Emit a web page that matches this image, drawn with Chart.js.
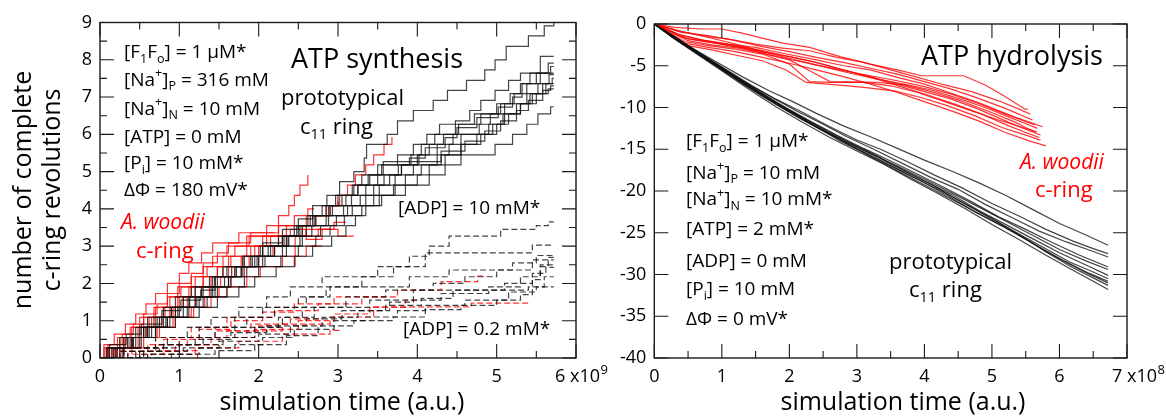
<!DOCTYPE html>
<html><head><meta charset="utf-8">
<script src="https://cdn.jsdelivr.net/npm/chart.js@4.4.1/dist/chart.umd.min.js"></script>
<style>
html,body{margin:0;padding:0;background:#fff;width:1166px;height:417px;overflow:hidden}
#c1{position:absolute;left:0;top:0}
#c2{position:absolute;left:596px;top:0}
</style></head><body>
<canvas id="c1" width="610" height="417"></canvas>
<canvas id="c2" width="570" height="417"></canvas>
<script>
// ---------------- DATA ----------------
// Left panel: ATP synthesis (x in units of 1e9 a.u., y = complete c-ring revolutions)
const synXTicks = [0,1,2,3,4,5,6];
const synYTicks = [0,1,2,3,4,5,6,7,8,9];
// prototypical c11 ring, [ADP] = 10 mM  (solid black)  [x, revolutions]
const synProto10 = [
 [[0,0],[0.12,0.36],[0.33,0.64],[0.52,0.91],[0.78,1.27],[1.02,1.55],[1.27,1.82],[1.45,2.18],[1.66,2.45],[1.9,2.73],[2.05,3.09],[2.3,3.45],[2.5,3.73],[2.68,4.09],[2.86,4.36],[3.02,4.73],[3.2,5.0],[3.33,5.36],[3.36,5.73],[3.62,6.0],[3.75,6.36],[3.95,6.64],[4.2,6.91],[4.38,7.18],[4.62,7.45],[4.85,7.73],[4.98,8.0],[5.12,8.36],[5.4,8.64],[5.6,8.91],[5.72,9.0]],
 [[0,0],[0.2,0.27],[0.41,0.55],[0.58,0.82],[0.83,1.09],[1.0,1.36],[1.22,1.64],[1.4,1.91],[1.57,2.18],[1.78,2.45],[1.95,2.73],[2.15,3.0],[2.37,3.27],[2.52,3.55],[2.7,3.82],[2.93,4.09],[3.17,4.36],[3.35,4.64],[3.58,4.91],[3.76,5.18],[3.92,5.45],[4.05,5.73],[4.22,6.0],[4.52,6.27],[4.8,6.55],[5.0,6.82],[5.17,7.09],[5.3,7.36],[5.42,7.64],[5.55,8.09],[5.72,8.09]],
 [[0,0],[0.08,0.27],[0.25,0.55],[0.45,0.82],[0.6,1.09],[0.8,1.36],[0.95,1.64],[1.15,1.91],[1.38,2.18],[1.55,2.45],[1.8,2.73],[2.02,3.0],[2.3,3.27],[2.45,3.55],[2.62,3.82],[2.8,4.09],[2.97,4.36],[3.25,4.64],[3.5,4.91],[3.8,5.18],[4.0,5.45],[4.15,5.73],[4.33,6.0],[4.48,6.36],[4.66,6.64],[4.8,6.91],[4.98,7.18],[5.15,7.45],[5.3,7.64],[5.72,7.64]],
 [[0,0],[0.17,0.27],[0.4,0.55],[0.62,0.82],[0.8,1.09],[0.98,1.36],[1.13,1.64],[1.3,1.91],[1.45,2.18],[1.72,2.45],[1.98,2.73],[2.2,3.0],[2.38,3.27],[2.55,3.55],[2.68,3.82],[2.9,4.09],[3.1,4.36],[3.25,4.64],[3.4,4.91],[3.55,5.18],[3.9,5.36],[4.1,5.64],[4.35,5.91],[4.5,6.18],[4.75,6.45],[5.02,6.73],[5.2,7.0],[5.32,7.36],[5.5,7.64],[5.65,7.91],[5.72,7.91]],
 [[0,0],[0.25,0.27],[0.45,0.55],[0.6,0.82],[0.75,1.09],[0.95,1.36],[1.2,1.64],[1.42,1.91],[1.62,2.18],[1.8,2.45],[2.0,2.73],[2.2,3.0],[2.35,3.27],[2.6,3.55],[2.85,3.82],[3.07,4.09],[3.28,4.36],[3.45,4.64],[3.65,4.91],[3.8,5.18],[4.02,5.45],[4.25,5.73],[4.45,6.0],[4.78,6.27],[4.92,6.55],[5.05,6.82],[5.22,7.09],[5.38,7.36],[5.55,7.64],[5.68,7.82],[5.72,7.82]],
 [[0,0],[0.15,0.27],[0.38,0.55],[0.55,0.82],[0.85,1.09],[1.05,1.36],[1.25,1.64],[1.48,1.91],[1.65,2.18],[1.78,2.45],[2.08,2.73],[2.3,3.0],[2.52,3.27],[2.67,3.55],[2.88,3.82],[3.12,4.09],[3.45,4.36],[3.7,4.64],[3.85,4.91],[4.05,5.18],[4.25,5.45],[4.4,5.73],[4.55,6.0],[4.9,6.27],[5.08,6.55],[5.25,6.82],[5.38,7.09],[5.52,7.36],[5.66,7.6],[5.72,7.6]],
 [[0,0],[0.28,0.27],[0.5,0.55],[0.7,0.82],[0.88,1.09],[1.1,1.36],[1.3,1.64],[1.45,1.91],[1.62,2.18],[1.85,2.45],[2.05,2.73],[2.35,3.0],[2.55,3.27],[2.78,3.55],[2.98,3.82],[3.18,4.09],[3.35,4.36],[3.52,4.64],[3.72,4.91],[3.95,5.18],[4.3,5.45],[4.55,5.73],[4.8,6.0],[5.0,6.27],[5.15,6.55],[5.3,6.82],[5.42,7.09],[5.58,7.36],[5.7,7.5],[5.72,7.5]],
 [[0,0],[0.1,0.27],[0.3,0.55],[0.5,0.82],[0.68,1.09],[0.9,1.36],[1.05,1.64],[1.2,1.91],[1.42,2.18],[1.6,2.45],[1.82,2.73],[2.05,3.0],[2.25,3.27],[2.48,3.55],[2.72,3.82],[2.88,4.09],[3.0,4.36],[3.18,4.64],[3.3,4.91],[3.5,5.18],[3.75,5.45],[3.95,5.73],[4.12,6.0],[4.28,6.27],[4.72,6.55],[5.1,6.82],[5.45,7.09],[5.62,7.36],[5.72,7.36]],
 [[0,0],[0.2,0.27],[0.35,0.55],[0.55,0.82],[0.72,1.09],[0.9,1.36],[1.12,1.64],[1.28,1.91],[1.48,2.18],[1.7,2.45],[1.92,2.73],[2.12,3.0],[2.32,3.27],[2.5,3.55],[2.65,3.82],[2.85,4.09],[3.05,4.36],[3.2,4.64],[3.38,4.91],[3.57,5.27],[4.3,5.55],[4.6,5.82],[4.85,6.09],[5.05,6.36],[5.25,6.64],[5.4,6.91],[5.58,7.18],[5.68,7.3],[5.72,7.3]],
 [[0,0],[0.22,0.27],[0.42,0.55],[0.65,0.82],[0.85,1.09],[1.12,1.36],[1.35,1.64],[1.6,1.91],[1.82,2.18],[2.0,2.45],[2.28,2.73],[2.5,3.0],[2.72,3.27],[2.9,3.55],[3.08,3.82],[3.3,4.09],[3.52,4.36],[3.72,4.64],[4.0,4.91],[4.15,5.18],[4.35,5.45],[4.55,5.73],[4.75,6.0],[4.95,6.27],[5.1,6.55],[5.3,6.82],[5.5,7.09],[5.65,7.22],[5.72,7.22]],
 [[0,0],[0.3,0.27],[0.52,0.55],[0.7,0.82],[0.95,1.09],[1.25,1.36],[1.48,1.64],[1.75,1.91],[1.95,2.18],[2.22,2.45],[2.45,2.73],[2.68,3.0],[2.92,3.27],[3.1,3.55],[3.22,3.82],[3.35,4.09],[3.55,4.36],[3.85,4.64],[4.15,4.91],[4.35,5.18],[4.55,5.45],[4.98,5.73],[5.2,6.0],[5.38,6.27],[5.52,6.55],[5.68,6.74],[5.72,6.74]]
];
// A. woodii c-ring, [ADP] = 10 mM  (solid red)
const synWoodii10 = [
 [[0,0],[0.05,0.27],[0.22,0.55],[0.38,0.82],[0.5,1.09],[0.68,1.36],[0.85,1.64],[0.98,1.91],[1.15,2.18],[1.3,2.45],[1.42,2.73],[1.6,3.0],[1.85,3.27],[2.1,3.55],[2.25,3.82],[2.38,4.09],[2.45,4.36],[2.52,4.64],[2.62,4.91]],
 [[0,0],[0.12,0.27],[0.3,0.55],[0.48,0.82],[0.62,1.09],[0.8,1.36],[1.0,1.64],[1.15,1.91],[1.3,2.18],[1.48,2.45],[1.65,2.73],[1.9,3.0],[2.1,3.27],[2.35,3.55],[2.6,3.82],[2.85,4.09],[3.02,4.36],[3.12,4.64],[3.22,4.91],[3.35,5.18],[3.45,5.45],[3.58,5.73],[3.68,5.93]],
 [[0,0],[0.18,0.27],[0.4,0.55],[0.58,0.82],[0.75,1.09],[0.92,1.36],[1.1,1.64],[1.28,1.91],[1.45,2.18],[1.62,2.45],[1.8,2.73],[2.0,3.0],[2.15,3.27],[2.4,3.27],[2.46,2.45]],
 [[0,0],[0.1,0.27],[0.32,0.55],[0.55,0.82],[0.7,1.09],[0.88,1.36],[1.05,1.64],[1.2,1.91],[1.4,2.18],[1.55,2.45],[1.78,2.73],[1.95,3.0],[2.3,3.27],[2.75,3.45],[2.9,3.45]],
 [[0,0],[0.25,0.27],[0.42,0.55],[0.6,0.82],[0.78,1.09],[0.95,1.36],[1.2,1.64],[1.38,1.91],[1.52,2.18],[1.7,2.45],[1.88,2.73],[2.05,3.0],[2.25,3.27],[2.6,3.45],[2.95,3.64],[3.1,3.64]],
 [[0,0],[0.08,0.27],[0.25,0.55],[0.4,0.82],[0.55,1.09],[0.7,1.36],[0.88,1.64],[1.02,1.91],[1.2,2.18],[1.35,2.45],[1.55,2.73],[1.7,3.0],[1.88,3.27],[2.4,3.45],[2.6,3.18],[2.8,3.45],[3.0,3.27],[3.2,3.27]],
 [[0,0],[0.15,0.27],[0.35,0.55],[0.52,0.82],[0.65,1.09],[0.82,1.36],[0.98,1.64],[1.12,1.91],[1.3,2.18],[1.48,2.45],[1.62,2.73],[1.85,3.0],[2.05,3.27],[2.25,3.55],[2.45,3.82],[2.62,4.0],[2.7,4.0]],
 [[0,0],[0.1,0.36],[0.28,0.64],[0.42,0.91],[0.55,1.18],[0.72,1.45],[0.85,1.73],[1.0,2.0],[1.15,2.27],[1.3,2.55],[1.48,2.82],[1.62,3.09],[1.9,3.36],[2.25,3.55],[2.4,3.55]],
 [[0,0],[0.3,0.27],[0.55,0.55],[0.72,0.82],[0.95,1.09],[1.15,1.36],[1.32,1.64],[1.5,1.91],[1.65,2.18],[1.82,2.45],[2.0,2.73],[2.18,3.0],[2.35,3.27],[2.55,3.55],[2.72,3.82],[2.9,4.09],[3.0,4.2]],
 [[0,0],[0.2,0.27],[0.48,0.55],[0.75,0.82],[0.92,1.09],[1.18,1.36],[1.4,1.64],[1.6,1.91],[1.85,2.18],[2.02,2.45],[2.3,2.73],[2.6,3.0],[2.8,3.0]],
 [[0,0],[0.05,0.36],[0.18,0.64],[0.32,0.91],[0.45,1.18],[0.58,1.45],[0.7,1.73],[0.85,2.0],[1.0,2.27],[1.12,2.55],[1.28,2.82],[1.42,3.09],[1.75,3.36],[2.2,3.36]]
];
// prototypical c11 ring, [ADP] = 0.2 mM  (dashed black)
const synProto02 = [
 [[0,0],[0.3,0.27],[0.7,0.55],[1.1,0.82],[1.4,1.09],[1.75,1.36],[2.1,1.64],[2.4,1.91],[2.8,2.18],[3.5,2.45],[3.9,2.73],[4.15,3.0],[4.4,3.27],[5.05,3.45],[5.5,3.55],[5.65,3.65],[5.72,3.65]],
 [[0,0],[0.45,0.27],[0.85,0.55],[1.25,0.82],[1.7,1.09],[2.05,1.36],[2.5,1.64],[2.85,1.91],[3.3,2.18],[3.7,2.45],[4.1,2.82],[5.45,3.03],[5.72,3.03]],
 [[0,0],[0.55,0.27],[1.0,0.55],[1.45,0.82],[1.85,1.09],[2.2,1.36],[2.6,1.64],[2.9,1.91],[3.9,2.18],[4.4,2.36],[5.2,2.55],[5.5,2.75],[5.72,2.75]],
 [[0,0],[0.35,0.18],[0.8,0.36],[1.3,0.55],[1.7,0.82],[2.25,1.09],[2.7,1.36],[3.1,1.64],[3.6,1.82],[4.2,2.0],[4.6,2.18],[5.0,2.36],[5.45,2.63],[5.72,2.63]],
 [[0,0],[0.6,0.18],[1.1,0.36],[1.55,0.55],[1.95,0.82],[2.3,1.09],[2.55,1.36],[3.4,1.55],[4.3,1.73],[4.9,1.91],[5.3,2.18],[5.55,2.5],[5.72,2.5]],
 [[0,0],[0.25,0.18],[0.75,0.36],[1.2,0.5],[1.65,0.68],[2.1,0.86],[2.6,1.05],[3.05,1.27],[3.6,1.41],[4.05,1.6],[4.45,1.82],[5.1,2.0],[5.45,2.27],[5.62,2.43],[5.72,2.43]],
 [[0,0],[0.5,0.1],[1.05,0.27],[1.5,0.45],[2.0,0.64],[2.4,0.86],[2.8,1.09],[3.25,1.27],[3.65,1.5],[3.95,1.82],[5.4,1.91],[5.6,2.18],[5.72,2.18]],
 [[0,0],[0.65,0.1],[1.25,0.27],[1.7,0.36],[2.05,0.55],[2.45,0.77],[2.95,1.0],[3.35,1.1],[3.75,1.27],[4.1,1.41],[4.6,1.55],[5.15,1.77],[5.5,1.91],[5.72,1.91]],
 [[0,0],[0.9,0.1],[1.45,0.2],[1.95,0.36],[2.35,0.6],[2.75,0.86],[3.2,1.0],[3.7,1.1],[4.1,1.3],[4.55,1.41],[5.0,1.55],[5.3,1.7],[5.45,2.1],[5.55,2.45],[5.65,2.7],[5.72,2.7]]
];
// A. woodii c-ring, [ADP] = 0.2 mM  (dashed red)
const synWoodii02 = [
 [[0,0],[0.3,0.27],[0.7,0.55],[1.15,0.82],[1.6,1.09],[2.2,1.27],[2.75,1.45],[3.3,1.64],[3.75,1.82],[4.3,2.05],[4.76,2.2],[4.86,2.2]],
 [[0,0],[0.5,0.18],[0.95,0.36],[1.4,0.55],[1.85,0.73],[2.3,0.91],[2.9,1.1],[3.45,1.37],[4.68,1.47],[5.42,1.47]],
 [[0,0],[0.6,0.1],[1.2,0.27],[1.75,0.45],[2.3,0.64],[2.9,0.74],[3.03,0.74]],
 [[0,0],[0.35,0.1],[0.8,0.2],[1.2,0.2],[1.23,-0.15]],
 [[0,0],[0.25,0.18],[0.7,0.36],[1.1,0.55],[1.6,0.73],[2.0,0.86],[2.3,0.86]],
 [[0,0],[0.4,0.27],[0.8,0.5],[1.25,0.77],[1.65,1.0],[2.05,1.23],[2.45,1.45],[2.95,1.64],[3.6,1.64]],
 [[0,0],[0.55,0.18],[1.0,0.36],[1.5,0.55],[1.95,0.77],[2.5,1.0],[2.95,1.18],[3.4,1.36],[3.85,1.55],[4.0,1.55]],
 [[0,0],[0.2,0.18],[0.6,0.36],[1.0,0.55],[1.45,0.73],[1.9,0.91],[2.4,1.05],[2.8,1.05]]
];

// Right panel: ATP hydrolysis (x in units of 1e8 a.u.)
const hydXTicks = [0,1,2,3,4,5,6,7];
const hydYTicks = [0,-5,-10,-15,-20,-25,-30,-35,-40];
// prototypical c11 ring (black)
const hydProto = [
 [[0,0],[0.3,-1.6],[0.65,-3.3],[1.0,-4.9],[1.3,-6.3],[1.7,-8.0],[2.05,-9.3],[2.4,-10.7],[2.8,-12.2],[3.2,-13.5],[3.6,-14.9],[4.0,-16.3],[4.4,-17.6],[4.8,-19.0],[5.2,-20.5],[5.6,-22.2],[6.0,-23.9],[6.4,-25.3],[6.72,-26.5]],
 [[0,0],[0.35,-1.9],[0.7,-3.6],[1.05,-5.4],[1.45,-7.4],[1.8,-9.0],[2.2,-10.6],[2.6,-12.3],[3.0,-13.9],[3.35,-15.0],[3.75,-16.5],[4.15,-18.1],[4.55,-19.6],[5.0,-21.5],[5.4,-23.0],[5.8,-24.6],[6.2,-26.0],[6.5,-26.9],[6.72,-27.5]],
 [[0,0],[0.25,-1.4],[0.6,-3.2],[0.95,-5.0],[1.3,-6.8],[1.7,-8.6],[2.1,-10.4],[2.45,-11.8],[2.85,-13.5],[3.25,-15.0],[3.65,-16.6],[4.1,-18.4],[4.5,-19.8],[4.9,-21.6],[5.3,-23.2],[5.7,-24.8],[6.1,-26.1],[6.45,-27.1],[6.72,-27.9]],
 [[0,0],[0.3,-1.5],[0.7,-3.7],[1.1,-5.8],[1.5,-7.8],[1.9,-9.8],[2.3,-11.6],[2.7,-13.3],[3.1,-14.9],[3.5,-16.4],[3.9,-18.0],[4.3,-19.6],[4.7,-21.3],[5.1,-23.1],[5.5,-24.6],[5.9,-26.2],[6.3,-27.7],[6.72,-29.1]],
 [[0,0],[0.4,-2.3],[0.8,-4.4],[1.2,-6.4],[1.6,-8.5],[2.0,-10.4],[2.4,-12.3],[2.8,-13.9],[3.2,-15.4],[3.6,-17.1],[4.0,-18.8],[4.4,-20.4],[4.8,-22.3],[5.2,-24.0],[5.6,-25.7],[6.0,-27.4],[6.4,-28.9],[6.72,-30.1]],
 [[0,0],[0.2,-1.1],[0.55,-3.0],[0.9,-4.9],[1.3,-7.1],[1.65,-8.9],[2.05,-10.8],[2.45,-12.6],[2.85,-14.2],[3.3,-15.9],[3.7,-17.6],[4.1,-19.2],[4.5,-21.1],[4.9,-22.9],[5.3,-24.7],[5.75,-26.7],[6.15,-28.5],[6.5,-29.7],[6.72,-30.5]],
 [[0,0],[0.35,-2.0],[0.75,-4.1],[1.15,-6.2],[1.55,-8.3],[1.95,-10.2],[2.35,-12.1],[2.75,-14.0],[3.15,-15.6],[3.55,-17.2],[3.95,-18.8],[4.35,-20.6],[4.75,-22.5],[5.15,-24.2],[5.55,-26.0],[5.95,-27.9],[6.35,-29.6],[6.72,-31.0]],
 [[0,0],[0.3,-1.8],[0.65,-3.7],[1.0,-5.6],[1.4,-7.8],[1.8,-9.9],[2.2,-11.8],[2.6,-13.6],[3.0,-15.2],[3.4,-16.8],[3.8,-18.6],[4.2,-20.3],[4.6,-22.1],[5.0,-24.0],[5.4,-25.8],[5.8,-27.7],[6.2,-29.5],[6.5,-30.8],[6.72,-31.8]],
 [[0,0],[0.45,-2.4],[0.85,-4.5],[1.25,-6.6],[1.65,-8.7],[2.05,-10.6],[2.45,-12.4],[2.85,-14.3],[3.25,-16.1],[3.65,-17.8],[4.05,-19.5],[4.45,-21.2],[4.85,-22.9],[5.25,-24.6],[5.65,-26.5],[6.05,-28.3],[6.45,-29.9],[6.72,-30.8]],
 [[0,0],[0.25,-1.5],[0.6,-3.3],[1.0,-5.5],[1.4,-7.6],[1.8,-9.6],[2.2,-11.5],[2.6,-13.2],[3.0,-14.9],[3.4,-16.5],[3.8,-18.2],[4.2,-19.8],[4.6,-21.5],[5.0,-23.3],[5.4,-25.2],[5.8,-27.3],[6.2,-29.2],[6.5,-30.4],[6.72,-31.3]],
 [[0,0],[0.4,-2.1],[0.8,-4.2],[1.2,-6.2],[1.6,-8.4],[2.0,-10.3],[2.4,-12.1],[2.8,-13.8],[3.2,-15.5],[3.6,-17.0],[4.0,-18.6],[4.4,-20.2],[4.8,-21.9],[5.2,-23.6],[5.6,-25.3],[6.0,-27.0],[6.4,-28.4],[6.72,-29.4]]
];
// A. woodii c-ring (red)
const hydWoodii = [
 [[0,0],[0.3,-0.4],[0.7,-0.6],[1.0,-0.6],[1.3,-1.1],[1.6,-1.7],[1.9,-2.3],[2.3,-2.8],[2.75,-3.9],[3.2,-4.8],[3.6,-5.5],[3.96,-6.2],[4.58,-6.2],[4.9,-7.3],[5.2,-8.7],[5.49,-10.2],[5.53,-10.2]],
 [[0,0],[0.4,-0.9],[0.8,-1.5],[1.1,-1.8],[1.5,-2.4],[1.9,-2.9],[2.3,-3.2],[2.7,-4.0],[3.1,-4.6],[3.5,-5.5],[3.9,-6.4],[4.3,-7.3],[4.7,-8.1],[5.1,-9.2],[5.4,-10.2],[5.57,-10.8]],
 [[0,0],[0.35,-1.2],[0.7,-1.9],[1.1,-2.4],[1.5,-2.8],[1.9,-3.5],[2.4,-4.3],[2.8,-5.0],[3.2,-5.5],[3.6,-6.4],[4.0,-7.2],[4.4,-8.3],[4.8,-9.4],[5.2,-10.7],[5.5,-11.7],[5.64,-12.1]],
 [[0,0],[0.5,-1.8],[0.9,-2.3],[1.3,-2.8],[1.7,-3.7],[2.1,-4.4],[2.5,-5.1],[2.9,-5.9],[3.3,-6.6],[3.7,-7.2],[4.1,-7.9],[4.5,-8.9],[4.9,-10.0],[5.3,-11.3],[5.55,-12.1],[5.67,-12.5]],
 [[0,0],[0.45,-2.1],[0.8,-2.6],[1.2,-3.0],[1.6,-3.6],[2.0,-4.8],[2.3,-6.9],[2.6,-7.0],[3.1,-7.0],[3.5,-7.4],[3.9,-8.2],[4.3,-9.3],[4.7,-10.4],[5.1,-11.5],[5.45,-12.4],[5.67,-12.9]],
 [[0,0],[0.4,-1.4],[0.75,-2.0],[1.15,-2.5],[1.55,-3.1],[1.95,-3.8],[2.35,-4.5],[2.75,-5.4],[3.2,-6.3],[3.6,-7.2],[4.0,-8.1],[4.4,-9.0],[4.8,-10.2],[5.2,-11.6],[5.5,-12.6],[5.72,-13.3]],
 [[0,0],[0.5,-2.6],[0.85,-3.1],[1.25,-3.8],[1.6,-4.4],[1.95,-5.5],[2.25,-7.0],[2.7,-7.3],[3.1,-7.6],[3.55,-8.0],[3.95,-8.8],[4.35,-9.8],[4.75,-11.0],[5.15,-12.4],[5.5,-13.3],[5.72,-13.9]],
 [[0,0],[0.45,-2.3],[0.8,-2.8],[1.2,-3.3],[1.6,-4.0],[2.0,-4.7],[2.4,-5.5],[2.8,-6.3],[3.2,-7.2],[3.6,-8.2],[4.0,-9.3],[4.4,-10.4],[4.8,-11.6],[5.2,-13.0],[5.55,-14.0],[5.8,-14.6]],
 [[0,0],[0.4,-1.0],[0.8,-1.4],[1.2,-2.0],[1.6,-2.7],[2.0,-3.3],[2.4,-4.0],[2.8,-4.6],[3.2,-5.3],[3.6,-6.0],[4.0,-6.9],[4.4,-7.8],[4.8,-8.9],[5.2,-10.1],[5.6,-11.5]],
 [[0,0],[0.5,-2.0],[0.85,-2.5],[1.25,-2.9],[1.6,-3.5],[2.0,-4.3],[2.35,-5.8],[2.6,-6.9],[3.3,-7.0],[3.7,-7.3],[4.1,-8.1],[4.5,-9.1],[4.9,-10.3],[5.3,-11.6],[5.5,-12.4],[5.65,-13.0]],
 [[0,0],[0.45,-1.7],[0.85,-2.2],[1.25,-2.8],[1.65,-3.4],[2.05,-4.0],[2.45,-4.7],[2.85,-5.6],[3.25,-6.5],[3.65,-7.5],[4.05,-8.5],[4.45,-9.6],[4.85,-10.8],[5.25,-12.2],[5.5,-13.0],[5.7,-13.6]],
 [[0,0],[0.35,-0.8],[0.8,-1.6],[1.2,-2.4],[1.6,-3.3],[2.0,-4.1],[2.4,-4.9],[2.8,-5.6],[3.2,-6.2],[3.6,-6.8],[4.0,-7.5],[4.4,-8.4],[4.8,-9.5],[5.2,-10.8],[5.5,-11.6],[5.75,-12.3]]
];

// ---------------- RENDERING ----------------
const FONT = '"Open Sans", "DejaVu Sans", sans-serif';
const BLACK = 'rgba(15,15,15,0.78)';
const RED = 'rgba(255,0,0,0.8)';

function pairSeries(p){ return p.map(q=>({x:q[0], y:q[1]})); }
function ds(data, color, dash, stepped){
  return {data, borderColor:color, borderWidth:1.2, borderDash:dash||[], pointRadius:0,
          stepped:stepped, fill:false, tension:0};
}

function drawRich(ctx, x, y, t){
  let cx = x;
  const size = t.size, color = t.color || '#000';
  ctx.fillStyle = color; ctx.textBaseline = 'middle'; ctx.textAlign = 'left';
  for (const s of t.segs){
    const seg = typeof s === 'string' ? {t:s} : s;
    const small = seg.sub || seg.sup;
    const fs = small ? size*0.66 : size;
    ctx.font = (t.italic ? 'italic ' : '') + fs + 'px ' + FONT;
    const dy = seg.sub ? size*0.33 : (seg.sup ? -size*0.36 : 0);
    ctx.fillText(seg.t, cx, y + dy);
    cx += ctx.measureText(seg.t).width;
  }
}

function makeFrame(cfg){
  return {
    id:'frame_'+cfg.name,
    afterDraw(chart){
      const ctx = chart.ctx, a = chart.chartArea, sx = chart.scales.x, sy = chart.scales.y;
      ctx.save();
      ctx.strokeStyle = '#1a1a1a';
      ctx.lineWidth = 1.1;
      ctx.beginPath();
      for (let v = sx.min; v <= sx.max + 1e-9; v += cfg.xMinor){
        const px = sx.getPixelForValue(v);
        const major = Math.abs(v - Math.round(v)) < 1e-6;
        const L = major ? cfg.major : cfg.minor;
        ctx.moveTo(px, a.bottom); ctx.lineTo(px, a.bottom - L);
        ctx.moveTo(px, a.top); ctx.lineTo(px, a.top + L);
      }
      for (let v = sy.min; v <= sy.max + 1e-9; v += cfg.yMinor){
        const py = sy.getPixelForValue(v);
        const major = Math.abs(v/cfg.yMajor - Math.round(v/cfg.yMajor)) < 1e-6;
        const L = major ? cfg.major : cfg.minor;
        ctx.moveTo(a.left, py); ctx.lineTo(a.left + L, py);
        ctx.moveTo(a.right, py); ctx.lineTo(a.right - L, py);
      }
      ctx.stroke();
      ctx.lineWidth = 1.4;
      ctx.strokeRect(a.left, a.top, a.right - a.left, a.bottom - a.top);
      for (const t of cfg.texts) drawRich(ctx, t.x - cfg.ox, t.y, t);
      const e = cfg.expo;
      ctx.fillStyle = '#000'; ctx.textBaseline = 'middle'; ctx.textAlign = 'left';
      ctx.font = '18px ' + FONT;
      ctx.fillText(e.base, e.x - cfg.ox, e.y);
      const w = ctx.measureText(e.base).width;
      ctx.font = '13px ' + FONT;
      ctx.fillText(e.exp, e.x - cfg.ox + w + 0.5, e.y - 7);
      ctx.font = '25px ' + FONT; ctx.textAlign = 'center'; ctx.textBaseline = 'alphabetic';
      ctx.fillText(cfg.xTitle.text, cfg.xTitle.x - cfg.ox, cfg.xTitle.y);
      if (cfg.yTitle){
        for (const l of cfg.yTitle){
          ctx.save();
          ctx.translate(l.x - cfg.ox, l.y);
          ctx.rotate(-Math.PI/2);
          ctx.textAlign = 'center'; ctx.textBaseline = 'middle';
          ctx.font = '25px ' + FONT;
          ctx.fillText(l.text, 0, 0);
          ctx.restore();
        }
      }
      ctx.restore();
    }
  };
}

function baseOptions(xmin, xmax, ymin, ymax, xTicks, yTicks, pad, yWidth){
  return {
    responsive:false, animation:false, events:[],
    layout:{padding:pad},
    plugins:{legend:{display:false}, tooltip:{enabled:false}},
    scales:{
      x:{type:'linear', min:xmin, max:xmax,
         afterFit(s){ s.height = 59; },
         afterBuildTicks(s){ s.ticks = xTicks.map(v=>({value:v})); },
         grid:{display:false, drawTicks:false}, border:{display:false},
         ticks:{padding:8, color:'#000', font:{family:FONT, size:18}, maxRotation:0, autoSkip:false,
                callback:(v)=> v === xmax ? '' : String(v)}},
      y:{type:'linear', min:ymin, max:ymax,
         afterFit(s){ s.width = yWidth; },
         afterBuildTicks(s){ s.ticks = yTicks.map(v=>({value:v})); },
         grid:{display:false, drawTicks:false}, border:{display:false},
         ticks:{padding:8, color:'#000', font:{family:FONT, size:18}, autoSkip:false,
                callback:(v)=> String(v)}}
    }
  };
}

// Left chart
const leftSets = [];
synProto02.forEach(p => leftSets.push(ds(pairSeries(p), BLACK, [6,3], true)));
synWoodii02.forEach(p => leftSets.push(ds(pairSeries(p), RED, [6,3], true)));
synProto10.forEach(p => leftSets.push(ds(pairSeries(p), BLACK, [], true)));
synWoodii10.forEach(p => leftSets.push(ds(pairSeries(p), RED, [], true)));

const leftTexts = [
 {x:124,y:53,size:19,segs:['[F',{t:'1',sub:1},'F',{t:'o',sub:1},'] = 1 μM*']},
 {x:124,y:80.5,size:19,segs:['[Na',{t:'+',sup:1},']',{t:'P',sub:1},' = 316 mM']},
 {x:124,y:109.5,size:19,segs:['[Na',{t:'+',sup:1},']',{t:'N',sub:1},' = 10 mM']},
 {x:124,y:137.5,size:19,segs:['[ATP] = 0 mM']},
 {x:124,y:164,size:19,segs:['[P',{t:'i',sub:1},'] = 10 mM*']},
 {x:124,y:191,size:19,segs:['ΔΦ = 180 mV*']},
 {x:121,y:223,size:21,italic:1,color:'#ff0000',segs:['A. woodii']},
 {x:136,y:252,size:22,color:'#ff0000',segs:['c-ring']},
 {x:291,y:60,size:27,segs:['ATP synthesis']},
 {x:281,y:99,size:22,segs:['prototypical']},
 {x:300,y:128,size:22,segs:['c',{t:'11',sub:1},' ring']},
 {x:398,y:209,size:19,segs:['[ADP] = 10 mM*']},
 {x:403,y:330,size:19,segs:['[ADP] = 0.2 mM*']}
];

new Chart(document.getElementById('c1'), {
  type:'line',
  data:{datasets:leftSets},
  options: baseOptions(0, 6, 0, 9, synXTicks, synYTicks, {top:22.5, right:34, left:0, bottom:0}, 100),
  plugins:[makeFrame({name:'l', ox:0, xMinor:0.5, yMinor:0.5, yMajor:1, major:14, minor:7,
     texts:leftTexts, expo:{base:'6 x10', exp:'9', x:555, y:377},
     xTitle:{text:'simulation time (a.u.)', x:342, y:410},
     yTitle:[{text:'number of complete', x:24, y:190},{text:'c-ring revolutions', x:53, y:190}]})]
});

// Right chart
const rightSets = [];
hydProto.forEach(p => rightSets.push(ds(pairSeries(p), BLACK, [], false)));
hydWoodii.forEach(p => rightSets.push(ds(pairSeries(p), RED, [], false)));

const rightTexts = [
 {x:921,y:57,size:27,segs:['ATP hydrolysis']},
 {x:686,y:141.7,size:19,segs:['[F',{t:'1',sub:1},'F',{t:'o',sub:1},'] = 1 μM*']},
 {x:686,y:173.3,size:19,segs:['[Na',{t:'+',sup:1},']',{t:'P',sub:1},' = 10 mM']},
 {x:686,y:200,size:19,segs:['[Na',{t:'+',sup:1},']',{t:'N',sub:1},' = 10 mM*']},
 {x:686,y:230,size:19,segs:['[ATP] = 2 mM*']},
 {x:686,y:261.7,size:19,segs:['[ADP] = 0 mM']},
 {x:686,y:290,size:19,segs:['[P',{t:'i',sub:1},'] = 10 mM']},
 {x:686,y:320,size:19,segs:['ΔΦ = 0 mV*']},
 {x:1020,y:162.6,size:21,italic:1,color:'#ff0000',segs:['A. woodii']},
 {x:1035,y:191,size:22,color:'#ff0000',segs:['c-ring']},
 {x:889,y:263,size:22,segs:['prototypical']},
 {x:909,y:291,size:22,segs:['c',{t:'11',sub:1},' ring']}
];

new Chart(document.getElementById('c2'), {
  type:'line',
  data:{datasets:rightSets},
  options: baseOptions(0, 7, -40, 0, hydXTicks, hydYTicks, {top:24, right:39, left:0, bottom:0}, 58.3),
  plugins:[makeFrame({name:'r', ox:596, xMinor:0.5, yMinor:5, yMajor:5, major:14, minor:7,
     texts:rightTexts, expo:{base:'7 x10', exp:'8', x:1112, y:377},
     xTitle:{text:'simulation time (a.u.)', x:903, y:410}, yTitle:null})]
});
</script>
</body></html>
